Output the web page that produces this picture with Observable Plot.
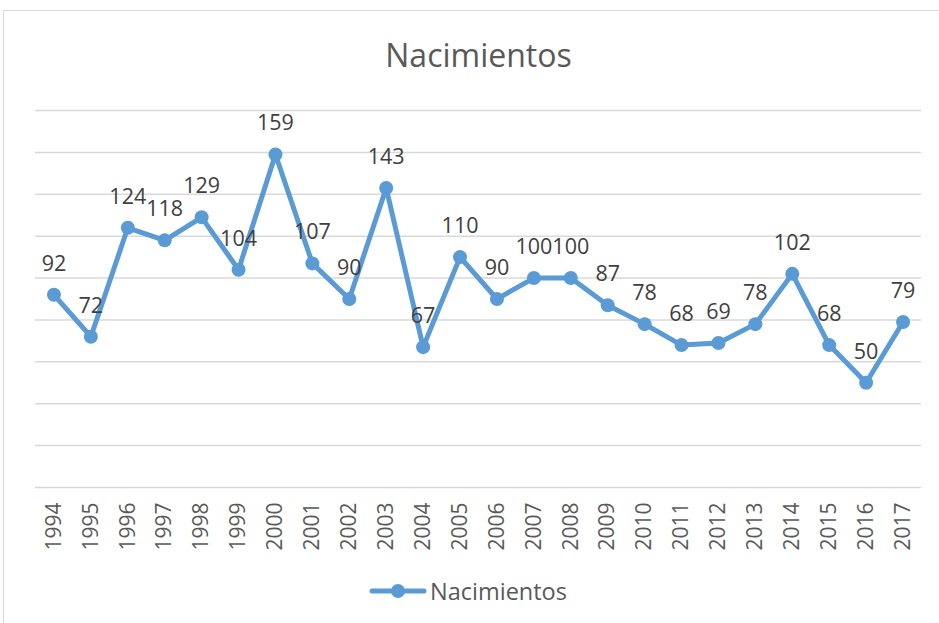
<!DOCTYPE html>
<html>
<head>
<meta charset="utf-8">
<script src="https://cdn.jsdelivr.net/npm/d3@7"></script>
<script src="https://cdn.jsdelivr.net/npm/@observablehq/plot@0.6"></script>
<style>
  html, body { margin: 0; padding: 0; background: #fff; }
  body { width: 939px; height: 623px; position: relative; overflow: hidden; font-family: "Open Sans", sans-serif; }
  #frame { position: absolute; left: 3px; top: 10px; width: 960px; height: 640px; border: 1px solid #d9d9d9; box-sizing: border-box; }
  #title { position: absolute; left: 0; top: 34px; width: 957px; text-align: center; font-size: 32px; color: #595959; line-height: 42px; }
  #chart { position: absolute; left: 0; top: 0; }
  #legend { position: absolute; left: 369px; top: 576px; height: 30px; display: flex; align-items: center; font-size: 23.5px; color: #595959; }
  #legend svg { margin-right: 3px; }
</style>
</head>
<body>
<div id="frame"></div>
<div id="title">Nacimientos</div>
<div id="chart"></div>
<div id="legend"></div>
<script>
const years = ["1994","1995","1996","1997","1998","1999","2000","2001","2002","2003","2004","2005","2006","2007","2008","2009","2010","2011","2012","2013","2014","2015","2016","2017"];
const births = [92,72,124,118,129,104,159,107,90,143,67,110,90,100,100,87,78,68,69,78,102,68,50,79];
const yTicks = [0,20,40,60,80,100,120,140,160,180];
const seriesName = "Nacimientos";

const data = years.map((y, i) => ({year: y, value: births[i]}));
const blue = "#5B9BD5";

const plot = Plot.plot({
  width: 939,
  height: 560,
  marginTop: 110,
  marginBottom: 73,
  marginLeft: 35,
  marginRight: 18,
  style: {fontFamily: "'Open Sans', sans-serif", background: "transparent", overflow: "visible"},
  x: {type: "point", domain: years, padding: 0.5, round: false},
  y: {domain: [0, 180]},
  marks: [
    Plot.gridY(yTicks, {stroke: "#d9d9d9", strokeOpacity: 1, strokeWidth: 1.5}),
    Plot.axisX({tickRotate: -90, tickSize: 0, tickPadding: 15, fontSize: 21, fill: "#595959", label: null}),
    Plot.axisY({ticks: [], label: null, tickSize: 0}),
    Plot.line(data, {x: "year", y: "value", stroke: blue, strokeWidth: 5, strokeLinejoin: "round"}),
    Plot.dot(data, {x: "year", y: "value", r: 7, fill: blue, stroke: "none"}),
    Plot.text(data, {x: "year", y: "value", text: d => String(d.value), dy: -31, fontSize: 21.5, fill: "#404040"})
  ]
});
document.getElementById("chart").appendChild(plot);

const leg = document.getElementById("legend");
leg.innerHTML = `<svg width="58" height="20"><line x1="3" y1="10" x2="55" y2="10" stroke="${blue}" stroke-width="5" stroke-linecap="round"/><circle cx="29" cy="10" r="7" fill="${blue}"/></svg><span>${seriesName}</span>`;
</script>
</body>
</html>
